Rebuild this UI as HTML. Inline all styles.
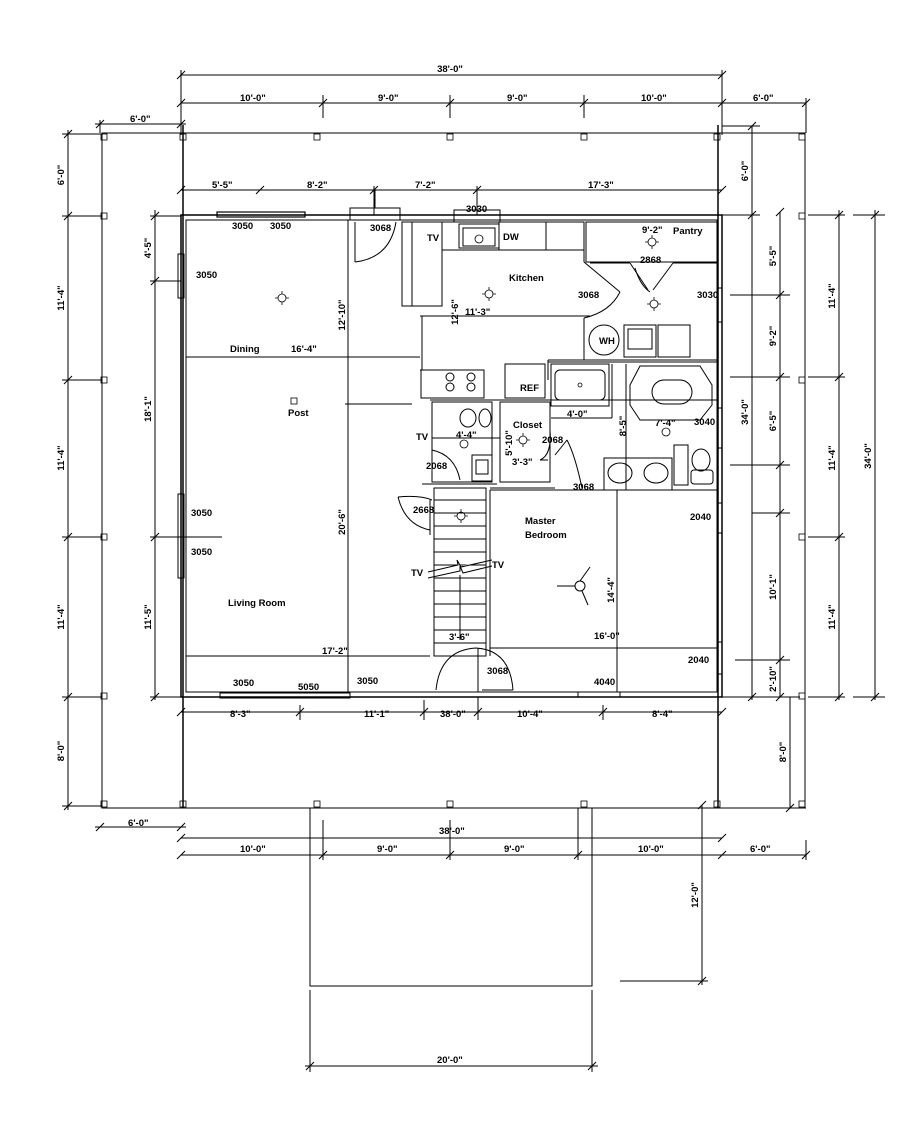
<!DOCTYPE html>
<html><head><meta charset="utf-8"><style>
html,body{margin:0;padding:0;background:#fff}
svg{display:block}
text{font-family:"Liberation Sans",Arial,sans-serif;font-weight:bold;font-size:9.5px;fill:#000}
</style></head><body>
<svg width="918" height="1125" viewBox="0 0 918 1125" xmlns="http://www.w3.org/2000/svg">
<g stroke="#000" stroke-width="1" fill="none">
<rect x="102" y="133" width="703" height="675"/>
<line x1="183" y1="125" x2="183" y2="808" stroke-width="1.5"/>
<line x1="718" y1="125" x2="718" y2="808" stroke-width="1.5"/>
<g stroke-width="0.8">
<rect x="101" y="134" width="6" height="6"/><rect x="180" y="134" width="6" height="6"/><rect x="314" y="134" width="6" height="6"/><rect x="447" y="134" width="6" height="6"/><rect x="581" y="134" width="6" height="6"/><rect x="714" y="134" width="6" height="6"/><rect x="799" y="134" width="6" height="6"/>
<rect x="101" y="213" width="6" height="6"/><rect x="101" y="377" width="6" height="6"/><rect x="101" y="534" width="6" height="6"/><rect x="101" y="693" width="6" height="6"/><rect x="101" y="801" width="6" height="6"/>
<rect x="799" y="213" width="6" height="6"/><rect x="799" y="377" width="6" height="6"/><rect x="799" y="534" width="6" height="6"/><rect x="799" y="693" width="6" height="6"/><rect x="799" y="801" width="6" height="6"/>
<rect x="180" y="801" width="6" height="6"/><rect x="314" y="801" width="6" height="6"/><rect x="447" y="801" width="6" height="6"/><rect x="581" y="801" width="6" height="6"/><rect x="714" y="801" width="6" height="6"/>
</g>
<rect x="181" y="215" width="541" height="482" stroke-width="1.5"/>
<rect x="186" y="220" width="531" height="472"/>
<rect x="310" y="808" width="282" height="178"/>
<line x1="181" y1="75" x2="722" y2="75"/>
<line x1="181" y1="70" x2="181" y2="135"/><line x1="722" y1="70" x2="722" y2="135"/>
<line x1="181" y1="103" x2="806" y2="103"/>
<line x1="323" y1="95" x2="323" y2="118"/><line x1="450" y1="95" x2="450" y2="118"/><line x1="584" y1="95" x2="584" y2="118"/>
<line x1="806" y1="98" x2="806" y2="133"/>
<line x1="95" y1="124" x2="186" y2="124"/><line x1="100" y1="120" x2="100" y2="133"/>
<line x1="181" y1="190" x2="722" y2="190"/>
<line x1="374" y1="186" x2="374" y2="215"/><line x1="477" y1="186" x2="477" y2="215"/>
<line x1="722" y1="126" x2="760" y2="126"/>
<line x1="722" y1="215" x2="760" y2="215"/>
<line x1="722" y1="697" x2="800" y2="697"/>
<line x1="752" y1="126" x2="752" y2="700"/>
<line x1="780" y1="212" x2="780" y2="697"/>
<line x1="730" y1="295" x2="790" y2="295"/><line x1="730" y1="377" x2="790" y2="377"/><line x1="730" y1="465" x2="790" y2="465"/>
<line x1="752" y1="513" x2="790" y2="513"/><line x1="735" y1="660" x2="790" y2="660"/>
<line x1="808" y1="215" x2="845" y2="215"/><line x1="808" y1="377" x2="845" y2="377"/><line x1="808" y1="537" x2="845" y2="537"/><line x1="808" y1="697" x2="845" y2="697"/>
<line x1="839" y1="210" x2="839" y2="700"/>
<line x1="853" y1="215" x2="885" y2="215"/><line x1="853" y1="697" x2="885" y2="697"/>
<line x1="875" y1="210" x2="875" y2="700"/>
<line x1="790" y1="697" x2="790" y2="808"/><line x1="770" y1="808" x2="806" y2="808"/>
<line x1="68" y1="130" x2="68" y2="810"/>
<line x1="62" y1="134" x2="102" y2="134"/><line x1="62" y1="216" x2="102" y2="216"/><line x1="62" y1="380" x2="102" y2="380"/><line x1="62" y1="537" x2="102" y2="537"/><line x1="62" y1="697" x2="102" y2="697"/><line x1="62" y1="806" x2="102" y2="806"/>
<line x1="155" y1="210" x2="155" y2="700"/>
<line x1="150" y1="216" x2="181" y2="216"/><line x1="150" y1="281" x2="181" y2="281"/><line x1="150" y1="537" x2="222" y2="537"/><line x1="150" y1="697" x2="181" y2="697"/>
<line x1="181" y1="712" x2="722" y2="712"/>
<line x1="300" y1="705" x2="300" y2="720"/><line x1="424" y1="700" x2="424" y2="720"/><line x1="478" y1="697" x2="478" y2="720"/><line x1="603" y1="705" x2="603" y2="720"/>
<line x1="95" y1="827" x2="186" y2="827"/>
<line x1="181" y1="838" x2="722" y2="838"/>
<line x1="181" y1="855" x2="806" y2="855"/>
<line x1="323" y1="820" x2="323" y2="860"/><line x1="450" y1="820" x2="450" y2="860"/><line x1="578" y1="808" x2="578" y2="860"/>
<line x1="806" y1="840" x2="806" y2="860"/>
<line x1="702" y1="805" x2="702" y2="985"/><line x1="620" y1="981" x2="708" y2="981"/>
<line x1="310" y1="990" x2="310" y2="1072"/><line x1="592" y1="990" x2="592" y2="1072"/>
<line x1="305" y1="1066" x2="598" y2="1066"/>
</g>
<g stroke="#000" stroke-width="1">
<path d="M177 79l8-8M177 107l8-8M718 79l8-8M718 107l8-8M319 107l8-8M446 107l8-8M580 107l8-8M802 107l8-8M96 128l8-8M177 128l8-8M177 194l8-8M256 194l8-8M370 194l8-8M473 194l8-8M718 194l8-8M64 138l8-8M64 220l8-8M64 384l8-8M64 541l8-8M64 701l8-8M64 810l8-8M151 220l8-8M151 285l8-8M151 541l8-8M151 701l8-8M748 130l8-8M748 219l8-8M748 701l8-8M776 216l8-8M776 299l8-8M776 381l8-8M776 469l8-8M776 517l8-8M776 664l8-8M776 701l8-8M835 219l8-8M835 381l8-8M835 541l8-8M835 701l8-8M871 219l8-8M871 701l8-8M177 716l8-8M296 716l8-8M420 716l8-8M474 716l8-8M599 716l8-8M718 716l8-8M96 831l8-8M177 831l8-8M177 842l8-8M718 842l8-8M177 859l8-8M319 859l8-8M446 859l8-8M574 859l8-8M718 859l8-8M802 859l8-8M698 809l8-8M698 985l8-8M306 1070l8-8M588 1070l8-8M786 812l8-8"/>
</g>
<g stroke="#000" stroke-width="1" fill="none">
<line x1="186" y1="656" x2="430" y2="656"/>
<line x1="186" y1="357" x2="420" y2="357"/>
<line x1="348" y1="220" x2="348" y2="692"/>
<line x1="345" y1="404" x2="412" y2="404"/>
<rect x="350" y="208" width="50" height="12"/><line x1="375" y1="190" x2="375" y2="208"/>
<path d="M355 262 Q 390 258 396 222"/><line x1="355" y1="222" x2="355" y2="262"/>
<rect x="402" y="222" width="40" height="84"/><line x1="412" y1="222" x2="412" y2="306"/>
<rect x="442" y="222" width="142" height="28"/>
<rect x="459" y="224" width="40" height="24"/><rect x="463" y="228" width="32" height="18"/>
<line x1="499" y1="222" x2="499" y2="250"/><line x1="546" y1="222" x2="546" y2="250"/>
<rect x="454" y="210" width="46" height="12"/>
<line x1="420" y1="316" x2="590" y2="316"/>
<line x1="422" y1="316" x2="422" y2="370"/>
<line x1="420" y1="370" x2="481" y2="370"/>
<rect x="421" y="370" width="63" height="28"/>
<circle cx="450" cy="377" r="4"/><circle cx="450" cy="387" r="4"/><circle cx="471" cy="377" r="4"/><circle cx="471" cy="387" r="4"/>
<rect x="505" y="364" width="40" height="34"/>
<line x1="584" y1="222" x2="584" y2="262"/>
<line x1="584" y1="262" x2="620" y2="292"/>
<path d="M620 292 Q 610 312 584 318"/>
<line x1="584" y1="318" x2="584" y2="360"/>
<line x1="548" y1="360" x2="717" y2="360"/>
<line x1="548" y1="360" x2="548" y2="380"/>
<rect x="586" y="222" width="131" height="40"/>
<line x1="590" y1="263" x2="630" y2="263"/><line x1="673" y1="263" x2="717" y2="263"/>
<line x1="630" y1="263" x2="648" y2="290"/><line x1="673" y1="263" x2="653" y2="290"/>
<path d="M635 268 Q 640 285 650 292"/>
<circle cx="604" cy="340" r="15"/>
<rect x="624" y="325" width="32" height="32"/><rect x="628" y="329" width="24" height="20"/>
<rect x="658" y="325" width="32" height="32"/>
<line x1="430" y1="400" x2="717" y2="400"/>
<line x1="548" y1="362" x2="717" y2="362"/>
<rect x="551" y="364" width="58" height="42"/>
<rect x="555" y="370" width="50" height="30" rx="5"/>
<line x1="551" y1="418" x2="612" y2="418"/>
<line x1="612" y1="364" x2="612" y2="418"/>
<line x1="626" y1="364" x2="626" y2="490"/>
<path d="M640 366 L700 366 L712 385 L712 405 L700 420 L640 420 L630 405 L630 385 Z"/>
<rect x="652" y="380" width="40" height="24" rx="12"/>
<rect x="604" y="458" width="68" height="32"/>
<ellipse cx="620" cy="473" rx="12" ry="10"/><ellipse cx="656" cy="473" rx="12" ry="10"/>
<rect x="674" y="445" width="14" height="40"/>
<ellipse cx="701" cy="460" rx="9" ry="11"/><rect x="691" y="470" width="22" height="14" rx="3"/>
<line x1="490" y1="490" x2="717" y2="490"/>
<line x1="490" y1="488" x2="555" y2="488"/>
<line x1="555" y1="455" x2="567" y2="440"/><path d="M567 440 Q 575 455 582 488"/>
<rect x="432" y="402" width="60" height="80"/>
<rect x="500" y="402" width="50" height="80"/>
<path d="M550 430 Q 552 455 540 460"/><line x1="540" y1="460" x2="548" y2="460"/>
<ellipse cx="468" cy="418" rx="8" ry="9"/><ellipse cx="485" cy="418" rx="6" ry="9"/>
<rect x="472" y="455" width="20" height="26"/><rect x="476" y="460" width="12" height="14"/>
<line x1="432" y1="438" x2="500" y2="438"/>
<path d="M432 450 Q 455 455 460 480"/>
<line x1="422" y1="484" x2="497" y2="484"/>
<rect x="434" y="488" width="52" height="168"/>
<line x1="434" y1="500" x2="486" y2="500"/><line x1="434" y1="513" x2="486" y2="513"/><line x1="434" y1="526" x2="486" y2="526"/><line x1="434" y1="539" x2="486" y2="539"/><line x1="434" y1="552" x2="486" y2="552"/><line x1="434" y1="565" x2="486" y2="565"/><line x1="434" y1="578" x2="486" y2="578"/><line x1="434" y1="591" x2="486" y2="591"/><line x1="434" y1="604" x2="486" y2="604"/><line x1="434" y1="617" x2="486" y2="617"/><line x1="434" y1="630" x2="486" y2="630"/><line x1="434" y1="643" x2="486" y2="643"/>
<line x1="460" y1="575" x2="460" y2="640"/>
<path d="M428 572 L458 565 L457 560 L461 567 L492 560 M428 578 L460 571 L460 566 L463 573 L492 566" fill="#fff"/>
<line x1="490" y1="490" x2="490" y2="656"/>
<path d="M398 497 Q 420 495 432 500 M398 497 Q 405 525 430 530"/>
<line x1="430" y1="500" x2="430" y2="535"/>
<path d="M436 690 Q 440 650 476 648 Q 510 650 513 690"/>
<line x1="478" y1="648" x2="478" y2="692"/><line x1="482" y1="690" x2="513" y2="690"/>
<line x1="490" y1="648" x2="717" y2="648"/>
<line x1="617" y1="490" x2="617" y2="692"/>
<rect x="217" y="212" width="88" height="5" stroke-width="1.2"/>
<rect x="178" y="254" width="6" height="44"/>
<rect x="178" y="494" width="6" height="84"/>
<rect x="220" y="693" width="130" height="5"/>
<rect x="578" y="692" width="42" height="5"/>
<rect x="717" y="288" width="5" height="34"/>
<rect x="717" y="408" width="5" height="40"/>
<rect x="717" y="503" width="5" height="30"/>
<rect x="717" y="642" width="5" height="32"/>
<circle cx="580" cy="586" r="5"/>
<path d="M580 581 L590 567 M575 586 L557 586 M582 591 L588 605"/>
</g>
<g stroke="#000" fill="none" stroke-width="0.8">
<circle cx="282" cy="298" r="4"/><path d="M282 291v3M282 302v3M275 298h3M286 298h3"/>
<circle cx="489" cy="294" r="4"/><path d="M489 287v3M489 298v3M482 294h3M493 294h3"/>
<circle cx="479" cy="239" r="4"/>
<circle cx="652" cy="242" r="4"/><path d="M652 235v3M652 246v3M645 242h3M656 242h3"/>
<circle cx="654" cy="304" r="4"/><path d="M654 297v3M654 308v3M647 304h3M658 304h3"/>
<circle cx="523" cy="440" r="4"/><path d="M523 433v3M523 444v3M516 440h3M527 440h3"/>
<circle cx="461" cy="516" r="4"/><path d="M461 509v3M461 520v3M454 516h3M465 516h3"/>
<circle cx="464" cy="444" r="4"/>
<circle cx="666" cy="432" r="4"/>
<rect x="291" y="398" width="6" height="6"/>
<circle cx="580" cy="385" r="2"/>
</g>
<text x="450" y="72" text-anchor="middle">38'-0"</text>
<text x="240" y="101">10'-0"</text><text x="378" y="101">9'-0"</text><text x="507" y="101">9'-0"</text><text x="641" y="101">10'-0"</text><text x="753" y="101">6'-0"</text>
<text x="130" y="122">6'-0"</text>
<text x="212" y="188">5'-5"</text><text x="307" y="188">8'-2"</text><text x="415" y="188">7'-2"</text><text x="588" y="188">17'-3"</text>
<text x="466" y="212">3030</text>
<text x="232" y="229">3050</text><text x="270" y="229">3050</text><text x="370" y="231">3068</text>
<text x="427" y="241">TV</text><text x="503" y="240">DW</text>
<text x="642" y="233">9'-2"</text><text x="673" y="234" font-size="11">Pantry</text>
<text x="640" y="263">2868</text>
<text x="509" y="281" font-size="10.5">Kitchen</text>
<text x="578" y="298">3068</text><text x="697" y="298">3030</text>
<text x="196" y="278">3050</text>
<text x="465" y="315">11'-3"</text>
<text x="599" y="344">WH</text>
<text x="230" y="352" font-size="10.5">Dining</text><text x="291" y="352">16'-4"</text>
<text x="520" y="391">REF</text>
<text x="288" y="416">Post</text>
<text x="567" y="417">4'-0"</text><text x="655" y="426">7'-4"</text><text x="694" y="425">3040</text>
<text x="513" y="428">Closet</text>
<text x="416" y="440">TV</text><text x="456" y="438">4'-4"</text><text x="542" y="443">2068</text>
<text x="426" y="469">2068</text><text x="512" y="465">3'-3"</text>
<text x="573" y="490">3068</text>
<text x="413" y="513">2668</text>
<text x="690" y="520">2040</text>
<text x="525" y="524" font-size="10">Master</text><text x="525" y="538" font-size="10">Bedroom</text>
<text x="191" y="516">3050</text><text x="191" y="555">3050</text>
<text x="411" y="576">TV</text><text x="492" y="568">TV</text>
<text x="228" y="606" font-size="10">Living Room</text>
<text x="449" y="640">3'-6"</text><text x="594" y="639">16'-0"</text>
<text x="322" y="654">17'-2"</text>
<text x="688" y="663">2040</text>
<text x="487" y="674">3068</text>
<text x="233" y="686">3050</text><text x="298" y="690">5050</text><text x="357" y="684">3050</text><text x="594" y="685">4040</text>
<text x="230" y="717">8'-3"</text><text x="364" y="717">11'-1"</text><text x="440" y="717">38'-0"</text><text x="517" y="717">10'-4"</text><text x="652" y="717">8'-4"</text>
<text x="128" y="826">6'-0"</text>
<text x="439" y="834">38'-0"</text>
<text x="240" y="852">10'-0"</text><text x="377" y="852">9'-0"</text><text x="504" y="852">9'-0"</text><text x="638" y="852">10'-0"</text><text x="750" y="852">6'-0"</text>
<text x="437" y="1063">20'-0"</text>
<g>
<text transform="translate(64 175) rotate(-90)" text-anchor="middle">6'-0"</text>
<text transform="translate(64 298) rotate(-90)" text-anchor="middle">11'-4"</text>
<text transform="translate(64 458) rotate(-90)" text-anchor="middle">11'-4"</text>
<text transform="translate(64 617) rotate(-90)" text-anchor="middle">11'-4"</text>
<text transform="translate(64 751) rotate(-90)" text-anchor="middle">8'-0"</text>
<text transform="translate(151 248) rotate(-90)" text-anchor="middle">4'-5"</text>
<text transform="translate(151 409) rotate(-90)" text-anchor="middle">18'-1"</text>
<text transform="translate(151 617) rotate(-90)" text-anchor="middle">11'-5"</text>
<text transform="translate(345 315) rotate(-90)" text-anchor="middle">12'-10"</text>
<text transform="translate(345 522) rotate(-90)" text-anchor="middle">20'-6"</text>
<text transform="translate(458 312) rotate(-90)" text-anchor="middle">12'-6"</text>
<text transform="translate(512 443) rotate(-90)" text-anchor="middle">5'-10"</text>
<text transform="translate(626 426) rotate(-90)" text-anchor="middle">8'-5"</text>
<text transform="translate(614 590) rotate(-90)" text-anchor="middle">14'-4"</text>
<text transform="translate(748 171) rotate(-90)" text-anchor="middle">6'-0"</text>
<text transform="translate(748 412) rotate(-90)" text-anchor="middle">34'-0"</text>
<text transform="translate(776 256) rotate(-90)" text-anchor="middle">5'-5"</text>
<text transform="translate(776 336) rotate(-90)" text-anchor="middle">9'-2"</text>
<text transform="translate(776 421) rotate(-90)" text-anchor="middle">6'-5"</text>
<text transform="translate(776 587) rotate(-90)" text-anchor="middle">10'-1"</text>
<text transform="translate(776 679) rotate(-90)" text-anchor="middle">2'-10"</text>
<text transform="translate(786 752) rotate(-90)" text-anchor="middle">8'-0"</text>
<text transform="translate(835 296) rotate(-90)" text-anchor="middle">11'-4"</text>
<text transform="translate(835 458) rotate(-90)" text-anchor="middle">11'-4"</text>
<text transform="translate(835 617) rotate(-90)" text-anchor="middle">11'-4"</text>
<text transform="translate(871 456) rotate(-90)" text-anchor="middle">34'-0"</text>
<text transform="translate(698 895) rotate(-90)" text-anchor="middle">12'-0"</text>
</g>
</svg>
</body></html>
